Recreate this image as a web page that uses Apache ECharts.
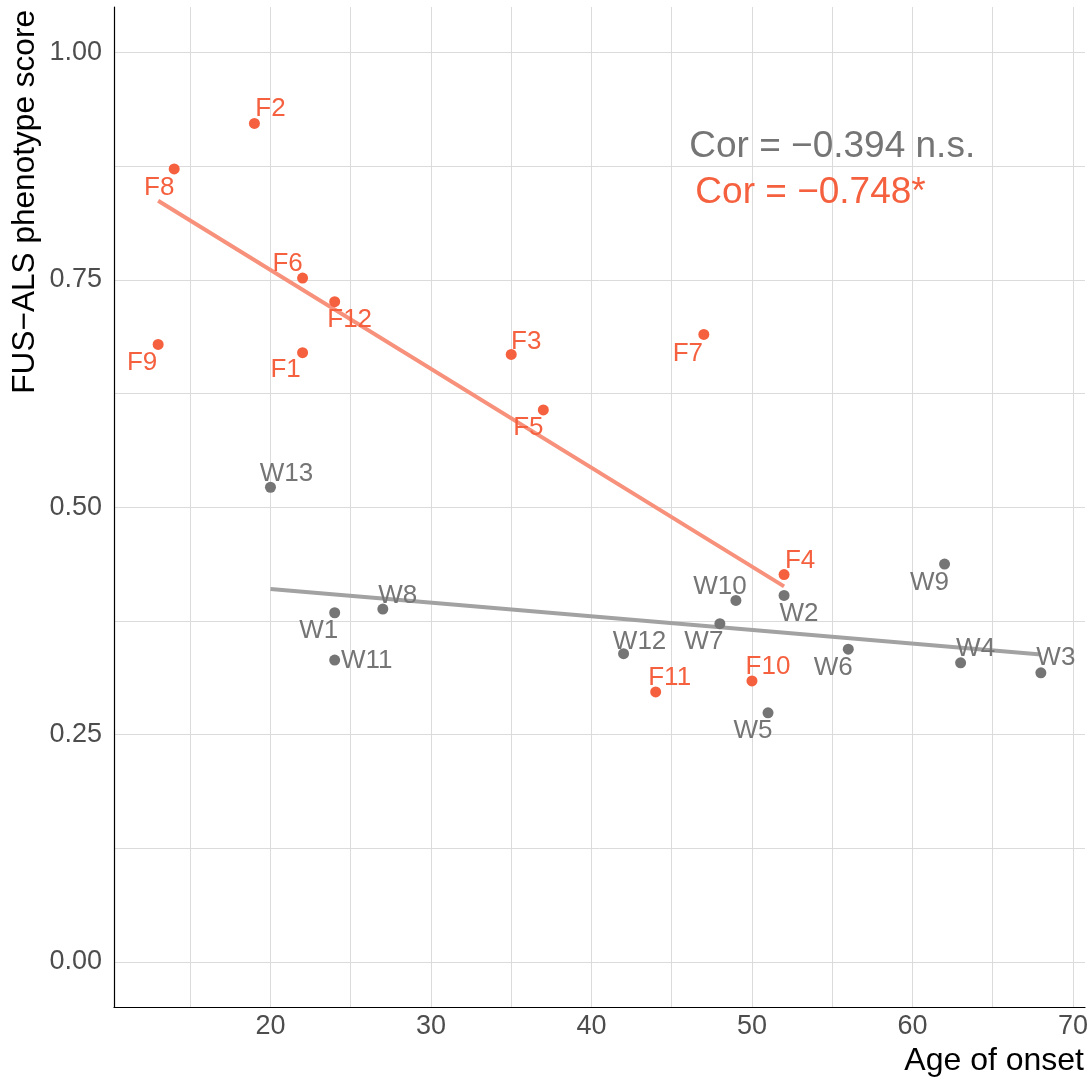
<!DOCTYPE html>
<html>
<head>
<meta charset="utf-8">
<script src="https://cdn.jsdelivr.net/npm/echarts@6/dist/echarts.min.js"></script>
<style>
  html, body { margin: 0; padding: 0; background: #fff; }
  #chart { width: 1092px; height: 1082px; }
</style>
</head>
<body>
<div id="chart"></div>
<script>
// FUS patients
const fNames = ['F1', 'F2', 'F3', 'F4', 'F5', 'F6', 'F7', 'F8', 'F9', 'F10', 'F11', 'F12'];
const fAge = [22, 19, 35, 52, 37, 22, 47, 14, 13, 50, 44, 24];
const fScore = [0.670, 0.922, 0.668, 0.426, 0.607, 0.752, 0.690, 0.872, 0.679, 0.309, 0.297, 0.726];

// wild-type patients
const wNames = ['W1', 'W2', 'W3', 'W4', 'W5', 'W6', 'W7', 'W8', 'W9', 'W10', 'W11', 'W12', 'W13'];
const wAge = [24, 52, 68, 63, 51, 56, 48, 27, 62, 49, 24, 42, 20];
const wScore = [0.384, 0.403, 0.318, 0.329, 0.274, 0.344, 0.372, 0.388, 0.4375, 0.3975, 0.332, 0.339, 0.522];

// linear fit end points
const fFitAge = [13, 52];
const fFitScore = [0.837, 0.413];
const wFitAge = [20, 68];
const wFitScore = [0.410, 0.338];

// correlation annotations
const corText = ['Cor = \u22120.394 n.s.', 'Cor = \u22120.748*'];
const corAge = [55, 53.65];
const corScore = [0.896, 0.846];

// axis ticks
const xTicks = [20, 30, 40, 50, 60, 70];
const xGrid = [15, 20, 25, 30, 35, 40, 45, 50, 55, 60, 65, 70];
const yTicks = [0, 0.25, 0.5, 0.75, 1.0];
const yGrid = [0, 0.125, 0.25, 0.375, 0.5, 0.625, 0.75, 0.875, 1.0];

// label nudges (px) so names sit beside their points
const fLabelOffset = [[-17, 17], [16, -15], [15, -13], [16, -14], [-15, 18], [-15, -14],
  [-16, 19], [-15, 19], [-16, 18], [16, -14], [14, -14], [15, 18]];
const wLabelOffset = [[-16, 18], [15, 18], [15, -15], [15, -14], [-15, 18], [-15, 19],
  [-16, 18], [15, -13], [-15, 19], [-16, -14], [32, 1], [16, -12], [16, -13]];

const FONT = '"Liberation Sans", Arial, Helvetica, sans-serif';
const ORANGE = '#F5603F';
const ORANGE_LINE = '#F7917B';
const GREY = '#757575';
const GREY_LINE = '#A2A2A2';

function points(names, ages, scores, offsets) {
  return names.map((n, i) => ({
    name: n,
    value: [ages[i], scores[i]],
    label: { offset: offsets[i] }
  }));
}

function pairs(xs, ys) { return xs.map((x, i) => [x, ys[i]]); }

const chart = echarts.init(document.getElementById('chart'), null, { renderer: 'canvas' });

chart.setOption({
  animation: false,
  backgroundColor: '#ffffff',
  textStyle: { fontFamily: FONT },
  grid: { left: 114, top: 7, width: 971, height: 1000.5, containLabel: false },
  xAxis: {
    type: 'value',
    min: 10.25,
    max: 70.75,
    axisLine: { show: true, onZero: false, lineStyle: { color: '#000', width: 1.2 } },
    axisTick: { show: false, customValues: xGrid },
    axisLabel: {
      customValues: xTicks,
      color: '#4D4D4D', fontSize: 27, fontFamily: FONT, margin: 6
    },
    splitLine: { show: true, lineStyle: { color: '#DBDBDB', width: 1 } }
  },
  yAxis: {
    type: 'value',
    min: -0.05,
    max: 1.05,
    axisLine: { show: true, onZero: false, lineStyle: { color: '#000', width: 1.2 } },
    axisTick: { show: false, customValues: yGrid },
    axisLabel: {
      customValues: yTicks,
      color: '#4D4D4D', fontSize: 27, fontFamily: FONT, margin: 12,
      formatter: v => Number(v).toFixed(2)
    },
    splitLine: { show: true, lineStyle: { color: '#DBDBDB', width: 1 } }
  },
  graphic: [
    {
      type: 'text', x: 25, y: 10, rotation: Math.PI / 2,
      style: { text: 'FUS\u2212ALS phenotype score', fill: '#000', fontSize: 31.6, fontFamily: FONT,
        align: 'right', verticalAlign: 'middle' }
    },
    {
      type: 'text', x: 1084, y: 1061,
      style: { text: 'Age of onset', fill: '#000', fontSize: 32, fontFamily: FONT,
        align: 'right', verticalAlign: 'middle' }
    }
  ],
  series: [
    {
      type: 'line', data: pairs(wFitAge, wFitScore), symbol: 'none', z: 2,
      lineStyle: { color: GREY_LINE, width: 4 }, silent: true
    },
    {
      type: 'line', data: pairs(fFitAge, fFitScore), symbol: 'none', z: 2,
      lineStyle: { color: ORANGE_LINE, width: 4 }, silent: true
    },
    {
      type: 'scatter', name: 'WT', z: 3,
      data: points(wNames, wAge, wScore, wLabelOffset),
      symbolSize: 11,
      itemStyle: { color: GREY, opacity: 1 },
      label: { show: true, position: 'inside', formatter: p => p.name,
        color: GREY, fontSize: 26, fontFamily: FONT }
    },
    {
      type: 'scatter', name: 'FUS', z: 3,
      data: points(fNames, fAge, fScore, fLabelOffset),
      symbolSize: 11,
      itemStyle: { color: ORANGE, opacity: 1 },
      label: { show: true, position: 'inside', formatter: p => p.name,
        color: ORANGE, fontSize: 26, fontFamily: FONT }
    },
    {
      type: 'scatter', z: 4, silent: true, symbolSize: 0,
      itemStyle: { opacity: 1 },
      data: [
        { value: [corAge[0], corScore[0]], label: { color: GREY } },
        { value: [corAge[1], corScore[1]], label: { color: ORANGE } }
      ],
      label: {
        show: true, position: 'inside', fontSize: 37, fontFamily: FONT,
        formatter: p => corText[p.dataIndex]
      }
    }
  ]
});
</script>
</body>
</html>
